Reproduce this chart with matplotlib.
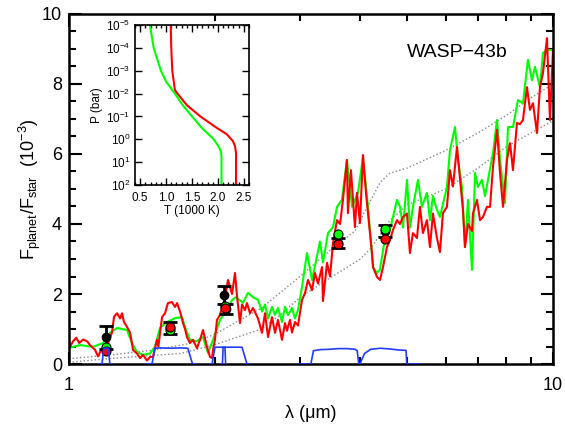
import matplotlib
matplotlib.use("Agg")
import matplotlib.pyplot as plt
from matplotlib.ticker import FixedLocator, NullFormatter, FixedFormatter, LogFormatterMathtext

plt.rcParams['font.family'] = ['Liberation Sans', 'DejaVu Sans']
plt.rcParams['mathtext.fontset'] = 'custom'
plt.rcParams['mathtext.rm'] = 'Liberation Sans'
plt.rcParams['mathtext.it'] = 'Liberation Sans:italic'

# ---- model spectra (wavelength in micron, Fp/Fs in 1e-3) ----
red_wl = [1.00, 1.02, 1.035, 1.05, 1.07, 1.09, 1.105, 1.121, 1.132, 1.148, 1.165, 1.187,
          1.204, 1.227, 1.239, 1.257, 1.275, 1.287, 1.299, 1.318, 1.337, 1.349, 1.356, 1.382,
          1.402, 1.422, 1.449, 1.47, 1.491, 1.52, 1.53, 1.557, 1.579, 1.601, 1.632, 1.656,
          1.672, 1.696, 1.72, 1.737, 1.753, 1.778, 1.804, 1.838, 1.865, 1.892, 1.928, 1.956,
          1.975, 1.984, 2.003, 2.022, 2.051, 2.071, 2.101, 2.131, 2.172, 2.203, 2.224, 2.256,
          2.278, 2.31, 2.332, 2.366, 2.40, 2.458, 2.505, 2.541, 2.578, 2.627, 2.665, 2.703,
          2.755, 2.795, 2.821, 2.862, 2.889, 2.931, 2.973, 3.03, 3.074, 3.118, 3.178, 3.223,
          3.27, 3.333, 3.348, 3.413, 3.462, 3.512, 3.579, 3.631, 3.682, 3.752, 3.77, 3.824,
          3.861, 3.898, 3.936, 3.992, 4.05, 4.108, 4.148, 4.227, 4.248, 4.329, 4.392, 4.455,
          4.54, 4.605, 4.671, 4.761, 4.83, 4.899, 4.993, 5.064, 5.137, 5.236, 5.311, 5.387,
          5.491, 5.57, 5.65, 5.758, 5.841, 5.925, 6.039, 6.126, 6.214, 6.334, 6.425, 6.517,
          6.58, 6.675, 6.803, 6.835, 6.966, 7.067, 7.168, 7.306, 7.412, 7.518, 7.663, 7.774,
          7.885, 8.035, 8.151, 8.268, 8.426, 8.546, 8.67, 8.836, 8.963, 9.093, 9.268, 9.40,
          9.535, 9.719, 9.858, 10.0]
red_fp = [0.45, 0.65, 0.75, 0.60, 0.70, 0.65, 0.54, 0.46, 0.40, 0.22, 0.40, 0.45,
          0.60, 0.90, 1.35, 1.45, 1.30, 1.45, 1.20, 1.06, 0.90, 0.60, 0.40, 0.30,
          0.17, 0.26, 0.10, 0.20, 0.20, 0.69, 0.50, 1.34, 1.45, 1.74, 1.77, 1.63,
          1.74, 1.50, 1.17, 1.00, 0.77, 0.60, 0.69, 0.45, 0.69, 0.97, 0.49, 0.20,
          0.17, 0.40, 0.70, 1.26, 1.40, 1.60, 1.91, 2.40, 2.00, 2.60, 1.95, 1.17,
          1.70, 1.54, 1.74, 1.45, 1.60, 1.30, 0.89, 1.45, 0.77, 1.34, 0.89, 1.26,
          0.69, 1.17, 0.95, 1.26, 0.90, 1.20, 1.10, 1.83, 2.03, 2.40, 2.11, 2.60,
          2.30, 2.77, 1.80, 2.89, 2.50, 3.46, 4.11, 4.00, 4.69, 5.83, 4.31, 5.54,
          4.70, 3.91, 4.89, 4.03, 5.97, 4.89, 4.31, 3.17, 2.77, 2.49, 2.40, 2.77,
          3.34, 3.54, 3.83, 4.11, 4.00, 4.20, 4.30, 3.17, 3.74, 3.60, 4.49, 3.74,
          4.11, 3.34, 4.30, 3.60, 3.20, 4.31, 4.49, 5.54, 5.07, 6.20, 5.30, 4.40,
          3.34, 4.00, 3.80, 4.30, 4.69, 4.11, 4.20, 4.49, 4.49, 5.63, 6.69, 5.46,
          4.49, 5.83, 6.31, 5.54, 6.89, 6.85, 6.97, 7.91, 7.26, 7.45, 6.60, 7.91,
          8.31, 9.31, 6.97, 8.97]

green_wl = [1.00, 1.054, 1.121, 1.176, 1.215, 1.257, 1.318, 1.349, 1.382, 1.422, 1.47, 1.505,
            1.542, 1.594, 1.656, 1.712, 1.737, 1.778, 1.838, 1.892, 1.938, 1.984, 2.051, 2.121,
            2.172, 2.213, 2.289, 2.343, 2.40, 2.458, 2.505, 2.541, 2.578, 2.627, 2.665, 2.703,
            2.755, 2.795, 2.835, 2.889, 2.931, 2.973, 3.03, 3.103, 3.178, 3.223, 3.301, 3.348,
            3.429, 3.512, 3.579, 3.664, 3.752, 3.843, 3.954, 4.05, 4.148, 4.248, 4.329, 4.392,
            4.497, 4.605, 4.761, 4.83, 4.899, 4.993, 5.064, 5.137, 5.261, 5.361, 5.491, 5.57,
            5.65, 5.758, 5.841, 6.039, 6.126, 6.274, 6.365, 6.486, 6.58, 6.675, 6.803, 6.901,
            6.999, 7.134, 7.237, 7.341, 7.518, 7.663, 7.774, 7.96, 8.073, 8.268, 8.467, 8.67,
            8.878, 9.049, 9.18, 9.40, 9.535, 9.719, 9.952]
green_fp = [0.46, 0.54, 0.49, 0.60, 0.89, 1.03, 0.97, 0.60, 0.34, 0.26, 0.30, 0.49,
            1.03, 1.20, 1.31, 1.34, 1.05, 0.69, 0.65, 0.77, 0.31, 0.69, 1.26, 1.54,
            1.83, 1.91, 1.75, 2.03, 1.91, 1.83, 1.50, 1.70, 1.30, 1.63, 1.40, 1.60,
            1.20, 1.63, 1.40, 1.60, 1.30, 1.55, 2.20, 3.17, 2.40, 2.80, 3.50, 2.90,
            3.74, 3.91, 4.49, 4.69, 5.83, 4.49, 4.89, 5.90, 4.49, 2.77, 2.60, 2.70,
            3.60, 3.83, 4.69, 4.49, 3.90, 5.26, 3.90, 4.49, 5.26, 4.49, 4.89, 4.11,
            4.80, 4.40, 4.20, 5.06, 6.11, 6.77, 5.83, 5.06, 3.34, 4.69, 2.69, 5.46,
            5.06, 5.26, 4.80, 5.26, 6.03, 6.97, 5.83, 4.60, 6.77, 6.77, 7.54, 7.45,
            8.69, 8.11, 8.49, 7.91, 8.89, 8.97, 8.97]

# ---- blackbody-like reference curves (dotted) ----
bb_hi_wl = [1.0, 1.2, 1.5, 1.8, 2.0, 2.5, 3.0, 3.5, 3.9, 4.1, 4.4, 4.6, 5.0, 6.0, 7.0, 8.0, 9.0, 10.0]
bb_hi_fp = [0.15, 0.25, 0.40, 0.60, 0.85, 1.60, 2.50, 3.30, 3.80, 4.40, 5.20, 5.45, 5.60, 6.10, 6.60, 7.10, 7.60, 8.00]
bb_lo_wl = [1.0, 1.2, 1.5, 1.7, 2.0, 2.5, 2.73, 3.0, 3.5, 4.0, 4.2, 4.6, 5.0, 6.0, 7.0, 8.0, 9.0, 10.0]
bb_lo_fp = [0.05, 0.15, 0.25, 0.30, 0.55, 1.00, 1.40, 1.90, 2.50, 3.00, 3.30, 4.10, 4.55, 5.00, 5.60, 6.20, 6.60, 6.95]

# ---- filter transmission curves ----
filt_J_wl = [1.150, 1.170, 1.180, 1.205, 1.215, 1.235]
filt_J_tr = [0.0, 0.0, 0.45, 0.45, 0.0, 0.0]
filt_H_wl = [1.440, 1.484, 1.505, 1.55, 1.62, 1.70, 1.76, 1.80, 1.83]
filt_H_tr = [0.0, 0.0, 0.45, 0.46, 0.45, 0.46, 0.45, 0.0, 0.0]
filt_K_wl = [1.950, 1.975, 2.003, 2.10, 2.20, 2.278, 2.332, 2.36]
filt_K_tr = [0.0, 0.0, 0.48, 0.48, 0.48, 0.48, 0.0, 0.0]
filt_N_wl = [2.075, 2.082, 2.100, 2.107]
filt_N_tr = [0.0, 0.48, 0.48, 0.0]
filt_I1_wl = [3.00, 3.16, 3.20, 3.30, 3.45, 3.60, 3.75, 3.90, 3.94, 3.97, 4.00]
filt_I1_tr = [0.0, 0.0, 0.38, 0.41, 0.42, 0.44, 0.44, 0.42, 0.38, 0.0, 0.0]
filt_I2_wl = [3.95, 3.99, 4.08, 4.20, 4.40, 4.60, 4.80, 4.97, 4.99, 5.30]
filt_I2_tr = [0.0, 0.0, 0.30, 0.42, 0.45, 0.43, 0.40, 0.39, 0.0, 0.0]

# ---- observations and band-integrated models ----
obs_wl = [1.19, 1.62, 2.09, 2.11, 3.6, 4.5]
obs_fp = [0.76, 1.03, 1.97, 1.57, 3.46, 3.80]
obs_err = [0.33, 0.17, 0.26, 0.14, 0.15, 0.16]
mod_wl = [1.19, 1.62, 2.10, 3.6, 4.5]
mod_green = [0.49, 0.98, 1.65, 3.71, 3.86]
mod_red = [0.38, 1.06, 1.60, 3.43, 3.57]

# ---- inset T-P profiles (T in 1000 K, P in bar) ----
tp_green_T = [0.69, 0.76, 0.90, 1.00, 1.17, 1.32, 1.50, 1.69, 1.92, 2.01, 2.06, 2.07, 2.07]
tp_green_P = [1e-5, 1e-4, 1e-3, 3e-3, 1e-2, 3.2e-2, 1e-1, 3.2e-1, 1e0, 2e0, 3.5e0, 6e0, 1e2]
tp_red_T = [1.09, 1.10, 1.12, 1.17, 1.22, 1.40, 1.66, 1.98, 2.17, 2.29, 2.33, 2.35, 2.35]
tp_red_P = [1e-5, 1e-4, 1e-3, 7e-3, 1e-2, 3.2e-2, 1e-1, 3.2e-1, 6e-1, 1.2e0, 2e0, 4e0, 1e2]

fig = plt.figure(figsize=(5.65, 4.24), dpi=100)
ax = fig.add_axes([0.1221, 0.1415, 0.8566, 0.8255])

ax.plot(bb_hi_wl, bb_hi_fp, ls=':', color='#888888', lw=1.0, zorder=1)
ax.plot(bb_lo_wl, bb_lo_fp, ls=':', color='#888888', lw=1.0, zorder=1)
ax.plot(green_wl, green_fp, color='#00ff00', lw=1.5, zorder=2)
ax.plot(red_wl, red_fp, color='#ff0000', lw=1.5, zorder=2)

ax.errorbar(obs_wl, obs_fp, yerr=obs_err, fmt='o', color='k', ms=6, capsize=5,
            capthick=2, elinewidth=2, zorder=3)
ax.plot(mod_wl, mod_green, 'o', mfc='#00ff00', mec='k', mew=0.8, ms=6.5, zorder=4)
ax.plot(mod_wl, mod_red, 'o', mfc='#ff0000', mec='k', mew=0.8, ms=6.5, zorder=4)

for fw, ft in [(filt_J_wl, filt_J_tr), (filt_H_wl, filt_H_tr), (filt_K_wl, filt_K_tr),
               (filt_N_wl, filt_N_tr), (filt_I1_wl, filt_I1_tr), (filt_I2_wl, filt_I2_tr)]:
    ax.plot(fw, ft, color='#1f3cff', lw=1.2, zorder=5)

ax.set_xscale('log')
ax.set_xlim(1, 10)
ax.set_ylim(0, 10)
ax.xaxis.set_major_locator(FixedLocator([1, 10]))
ax.xaxis.set_major_formatter(FixedFormatter(['1', '10']))
ax.xaxis.set_minor_locator(FixedLocator([2, 3, 4, 5, 6, 7, 8, 9]))
ax.xaxis.set_minor_formatter(NullFormatter())
ax.set_yticks([0, 2, 4, 6, 8, 10])
ax.set_yticks([v * 0.5 for v in range(21)], minor=True)
ax.tick_params(which='both', direction='in', top=True, right=True, width=1.5, labelsize=13)
ax.tick_params(which='major', length=9)
ax.tick_params(which='minor', length=5)
ax.tick_params(axis='x', pad=9)
ax.tick_params(axis='y', pad=5)
for s in ax.spines.values():
    s.set_linewidth(1.8)
ax.set_xlabel('λ (μm)', fontsize=13, labelpad=8)
ax.set_ylabel(r'F$_{\rm planet}$/F$_{\rm star}$  (10$^{-3}$)', fontsize=13, labelpad=-1)
ax.text(0.698, 0.889, 'WASP\u221243b', transform=ax.transAxes, fontsize=14,
        ha='left', va='center')

# inset T-P profile
ins = fig.add_axes([0.2389, 0.5637, 0.2018, 0.3774])
ins.plot(tp_green_T, tp_green_P, color='#00ff00', lw=1.5)
ins.plot(tp_red_T, tp_red_P, color='#ff0000', lw=1.5)
ins.set_yscale('log')
ins.set_ylim(1e2, 1e-5)
ins.set_xlim(0.4, 2.6)
ins.set_xticks([0.5, 1.0, 1.5, 2.0, 2.5])
ins.set_xticklabels(['0.5', '1.0', '1.5', '2.0', '2.5'])
ins.set_xticks([0.4 + 0.1 * i for i in range(23)], minor=True)
ins.yaxis.set_major_locator(FixedLocator([1e-5, 1e-4, 1e-3, 1e-2, 1e-1, 1e0, 1e1, 1e2]))
ins.yaxis.set_major_formatter(LogFormatterMathtext())
ins.yaxis.set_minor_locator(FixedLocator([]))
ins.tick_params(which='both', direction='in', top=True, right=True, labelsize=8.5, width=1.0)
ins.tick_params(which='major', length=5)
ins.tick_params(which='minor', length=2.5)
ins.tick_params(axis='x', pad=5)
for s in ins.spines.values():
    s.set_linewidth(1.2)
ins.set_xlabel('T (1000 K)', fontsize=8.5, labelpad=1)
ins.set_ylabel('P (bar)', fontsize=8.5, labelpad=2)

fig.savefig('out.png', dpi=100)
